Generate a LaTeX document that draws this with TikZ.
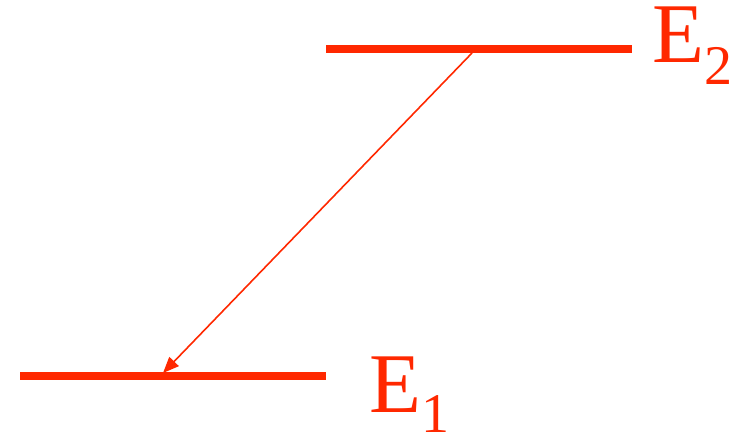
\documentclass[tikz,border=0pt]{standalone}
\usepackage{fontspec}
\setmainfont{Liberation Serif}
\usetikzlibrary{arrows.meta}
\definecolor{lvlred}{RGB}{255,40,0}
\begin{document}
\begin{tikzpicture}[x=1pt,y=1pt,
  level/.style={draw=lvlred,line width=8pt},
  trans/.style={draw=lvlred,line width=1.6pt,-{Triangle[length=16pt,width=13pt]}},
  lbl/.style={text=lvlred,inner sep=0pt,anchor=base west}]
\useasboundingbox (0,0) rectangle (739,434);
\coordinate (t1) at (326,385);
\coordinate (t2) at (632,385);
\coordinate (b1) at (20,58);
\coordinate (b2) at (326,58);
\coordinate (from) at (472,381);
\coordinate (to) at (163,61);
\draw[level] (t1) -- (t2);
\draw[level] (b1) -- (b2);
\draw[trans] (from) -- (to);
\node[lbl] (E2) at (652,371) {\fontsize{85}{85}\selectfont E\raisebox{-22pt}{\fontsize{56}{56}\selectfont 2}};
\node[lbl] (E1) at (369,22) {\fontsize{85}{85}\selectfont E\raisebox{-20pt}{\fontsize{56}{56}\selectfont 1}};
\end{tikzpicture}
\end{document}
